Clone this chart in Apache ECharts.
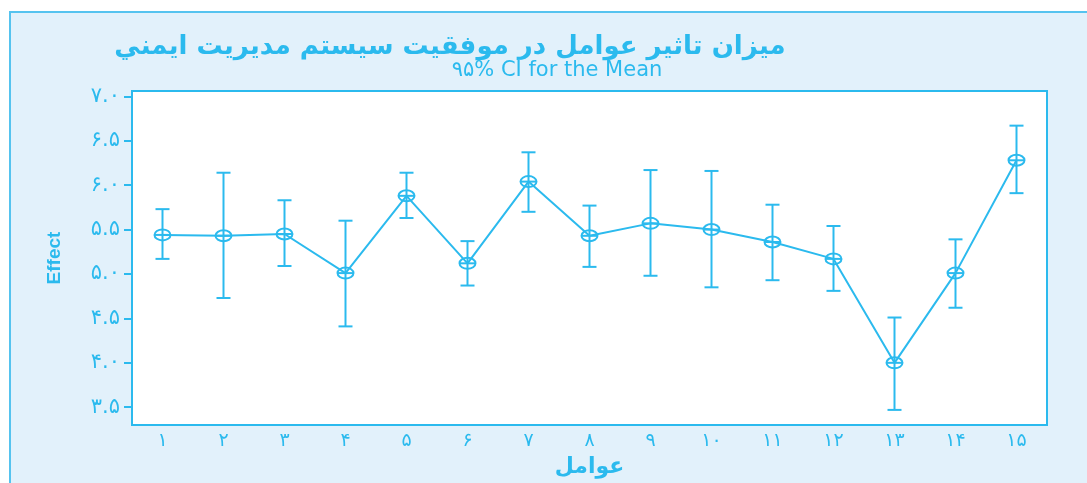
<!DOCTYPE html>
<html>
<head>
<meta charset="utf-8">
<script src="https://cdn.jsdelivr.net/npm/echarts@6/dist/echarts.min.js"></script>
<style>
  html, body { margin: 0; padding: 0; background: #ffffff; }
  #bg { position: absolute; left: 9px; top: 11px; width: 1078px; height: 472px;
        background: #e2f1fb; border-top: 2px solid #55c3ef; border-left: 2px solid #55c3ef; box-sizing: border-box; }
  #chart { position: absolute; left: 0; top: 0; width: 1087px; height: 483px; }
</style>
</head>
<body>
<div id="bg"></div>
<div id="chart"></div>
<script>
// ---- data ----
const categories = ['۱','۲','۳','۴','۵','۶','۷','۸','۹','۱۰','۱۱','۱۲','۱۳','۱۴','۱۵'];
const means = [5.44, 5.43, 5.45, 5.01, 5.88, 5.12, 6.04, 5.43, 5.57, 5.50, 5.36, 5.17, 4.00, 5.01, 6.28];
const upper = [5.73, 6.14, 5.83, 5.60, 6.14, 5.37, 6.37, 5.77, 6.17, 6.16, 5.78, 5.54, 4.51, 5.39, 6.67];
const lower = [5.17, 4.73, 5.09, 4.41, 5.63, 4.87, 5.70, 5.08, 4.98, 4.85, 4.93, 4.81, 3.47, 4.62, 5.91];
const yTickValues = [3.5, 4.0, 4.5, 5.0, 5.5, 6.0, 6.5, 7.0];
const yTickLabels = ['۳.۵', '۴.۰', '۴.۵', '۵.۰', '۵.۵', '۶.۰', '۶.۵', '۷.۰'];
const titleText = 'میزان تاثیر عوامل در موفقیت سیستم مدیریت ايمني';
const subtitleText = '۹۵% CI for the Mean';
const xName = 'عوامل';
const yName = 'Effect';

const C = '#2bbaee';
const errData = categories.map((c, i) => [i, lower[i], upper[i], means[i]]);

const chart = echarts.init(document.getElementById('chart'), null, { renderer: 'canvas' });
chart.setOption({
  backgroundColor: 'transparent',
  animation: false,
  title: [
    { text: titleText, left: 445, top: 29, textAlign: 'center',
      textStyle: { color: C, fontSize: 26, fontWeight: 'bold', fontFamily: 'DejaVu Sans' } },
    { text: subtitleText, left: 552, top: 55, textAlign: 'center',
      textStyle: { color: C, fontSize: 21, fontWeight: 'normal', fontFamily: 'DejaVu Sans' } }
  ],
  grid: { left: 132, right: 40, top: 91, bottom: 58, show: true, outerBoundsMode: 'none', containLabel: false,
          backgroundColor: '#ffffff', borderColor: C, borderWidth: 2 },
  xAxis: {
    type: 'category', data: categories, boundaryGap: true,
    name: xName, nameLocation: 'middle', nameGap: 31,
    nameTextStyle: { color: C, fontSize: 22, fontWeight: 'bold', fontFamily: 'DejaVu Sans' },
    axisLine: { lineStyle: { color: C, width: 2 } },
    axisTick: { alignWithLabel: true, length: 8, lineStyle: { color: C, width: 2 } },
    axisLabel: { color: C, fontSize: 19, margin: 7, fontFamily: 'DejaVu Sans' },
    splitLine: { show: false }
  },
  yAxis: {
    type: 'value', min: 3.3, max: 7.06,
    name: yName, nameLocation: 'middle', nameGap: 68, nameRotate: 90,
    nameTextStyle: { color: C, fontSize: 19, fontWeight: 'bold', fontFamily: 'Liberation Sans' },
    axisLine: { show: true, lineStyle: { color: C, width: 2 } },
    axisTick: { show: true, length: 8, customValues: yTickValues, lineStyle: { color: C, width: 2 } },
    axisLabel: { color: C, fontSize: 21, margin: 12, fontFamily: 'DejaVu Sans',
      customValues: yTickValues,
      formatter: function (v) {
        const k = yTickValues.findIndex(t => Math.abs(t - v) < 1e-6);
        return k >= 0 ? yTickLabels[k] : '';
      } },
    splitLine: { show: false }
  },
  series: [
    { type: 'line', data: means, symbol: 'none', lineStyle: { color: C, width: 2 }, z: 2 },
    { type: 'custom', data: errData, z: 3,
      renderItem: function (params, api) {
        const i = api.value(0);
        const lo = api.coord([i, api.value(1)]);
        const hi = api.coord([i, api.value(2)]);
        const m = api.coord([i, api.value(3)]);
        const cap = 7, rx = 8, ry = 5.5;
        const st = { stroke: C, lineWidth: 2, fill: null };
        return { type: 'group', children: [
          { type: 'line', shape: { x1: hi[0], y1: hi[1], x2: lo[0], y2: lo[1] }, style: st },
          { type: 'line', shape: { x1: hi[0] - cap, y1: hi[1], x2: hi[0] + cap, y2: hi[1] }, style: st },
          { type: 'line', shape: { x1: lo[0] - cap, y1: lo[1], x2: lo[0] + cap, y2: lo[1] }, style: st },
          { type: 'ellipse', shape: { cx: m[0], cy: m[1], rx: rx, ry: ry }, style: st },
          { type: 'line', shape: { x1: m[0] - rx, y1: m[1], x2: m[0] + rx, y2: m[1] }, style: st }
        ] };
      } }
  ]
});
</script>
</body>
</html>
